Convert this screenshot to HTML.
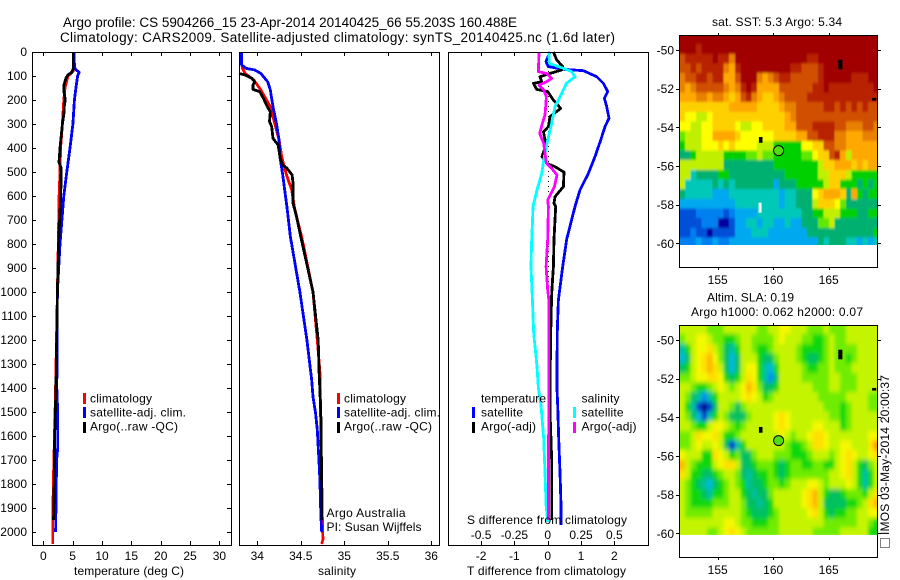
<!DOCTYPE html>
<html lang="en">
<head>
<meta charset="utf-8">
<title>Argo profile 5904266_15</title>
<style>
html,body{margin:0;padding:0;background:#fff;}
svg{display:block;}
text{font-family:"Liberation Sans",sans-serif;font-size:12px;fill:#000;}
.t14{font-size:13.5px;}
</style>
</head>
<body>
<svg id="chart" xmlns="http://www.w3.org/2000/svg" width="900" height="580" viewBox="0 0 900 580">
<defs>
<clipPath id="clip-sst"><rect x="679.5" y="35.5" width="198" height="209.5"/></clipPath>
<clipPath id="clip-sla"><rect x="679.5" y="325.5" width="198" height="209.5"/></clipPath>
<filter id="smooth" x="-5%" y="-5%" width="110%" height="110%"><feGaussianBlur stdDeviation="1.7 2.5"/></filter>
<filter id="soft" x="-5%" y="-5%" width="110%" height="110%"><feGaussianBlur stdDeviation="0.9 1.3"/></filter>
</defs>
<rect width="900" height="580" fill="#fff"/>

<text class="t14" x="63" y="27" textLength="454" lengthAdjust="spacing">Argo profile: CS 5904266_15 23-Apr-2014 20140425_66 55.203S 160.488E</text>
<text class="t14" x="60" y="42" textLength="555" lengthAdjust="spacing">Climatology: CARS2009. Satellite-adjusted climatology: synTS_20140425.nc (1.6d later)</text>

<g id="temp-panel"></g>
<g id="sal-panel"></g>
<g id="diff-panel"></g>
<g id="sst-map"></g>
<g id="sla-map"></g>

<rect x="32.5" y="52.5" width="199" height="493" fill="none" stroke="#000"/>
<rect x="239.5" y="52.5" width="200" height="493" fill="none" stroke="#000"/>
<rect x="448.5" y="52.5" width="200" height="493" fill="none" stroke="#000"/>
<rect x="679.5" y="35.5" width="198" height="232" fill="none" stroke="#000"/>
<rect x="679.5" y="325.5" width="198" height="232" fill="none" stroke="#000"/>

<text x="74" y="575" textLength="110" lengthAdjust="spacing">temperature (deg C)</text>
<text x="318" y="575" textLength="38" lengthAdjust="spacing">salinity</text>
<text x="467" y="575" textLength="159" lengthAdjust="spacing">T difference from climatology</text>
<text x="467" y="524" textLength="160" lengthAdjust="spacing">S difference from climatology</text>

<g>
<rect x="83" y="393" width="3" height="11" fill="#f00"/>
<text x="90" y="402.5" textLength="62" lengthAdjust="spacing">climatology</text>
<rect x="83" y="407" width="3" height="11" fill="#00f"/>
<text x="90" y="416.5" textLength="96" lengthAdjust="spacing">satellite-adj. clim.</text>
<rect x="83" y="422" width="3" height="11" fill="#000"/>
<text x="90" y="430.5" textLength="88" lengthAdjust="spacing">Argo(..raw -QC)</text>
</g>
<g>
<rect x="337" y="393" width="3" height="11" fill="#f00"/>
<text x="344" y="402.5" textLength="62" lengthAdjust="spacing">climatology</text>
<rect x="337" y="407" width="3" height="11" fill="#00f"/>
<text x="344" y="416.5" textLength="96" lengthAdjust="spacing">satellite-adj. clim.</text>
<rect x="337" y="422" width="3" height="11" fill="#000"/>
<text x="344" y="430.5" textLength="88" lengthAdjust="spacing">Argo(..raw -QC)</text>
<text x="326.5" y="517" textLength="79" lengthAdjust="spacing">Argo Australia</text>
<text x="326.5" y="531" textLength="95" lengthAdjust="spacing">PI: Susan Wijffels</text>
</g>
<g>
<text x="481" y="402.5" textLength="65" lengthAdjust="spacing">temperature</text>
<rect x="472" y="407" width="3" height="11" fill="#00f"/>
<text x="481" y="416.5" textLength="42" lengthAdjust="spacing">satellite</text>
<rect x="472" y="422" width="3" height="11" fill="#000"/>
<text x="481" y="430.5" textLength="55" lengthAdjust="spacing">Argo(-adj)</text>
<text x="581.5" y="402.5" textLength="38" lengthAdjust="spacing">salinity</text>
<rect x="573" y="407" width="3" height="11" fill="#0ff"/>
<text x="581.5" y="416.5" textLength="42" lengthAdjust="spacing">satellite</text>
<rect x="573" y="422" width="3" height="11" fill="#f0f"/>
<text x="581.5" y="430.5" textLength="55" lengthAdjust="spacing">Argo(-adj)</text>
</g>

<text x="712" y="26" textLength="130" lengthAdjust="spacing">sat. SST: 5.3 Argo: 5.34</text>
<text x="707" y="301.5" textLength="87" lengthAdjust="spacing">Altim. SLA: 0.19</text>
<text x="691" y="316" textLength="172" lengthAdjust="spacing">Argo h1000: 0.062 h2000: 0.07</text>

<rect x="880.5" y="538.5" width="9" height="9" fill="none" stroke="#000" stroke-dasharray="1 1"/>
<text transform="translate(889,535) rotate(-90)" textLength="160" lengthAdjust="spacing">IMOS 03-May-2014 20:00:37</text>
</svg>

<script>
// ---- profile data: pressure (dbar) and value pairs ----
const tempClimP = [0,80,100,150,200,300,400,500,600,800,1000,1400,1600,1800,2000,2050];
const tempClimV = [5.1,5.1,4.2,3.7,3.5,3.25,2.95,2.85,2.7,2.55,2.4,2.1,1.9,1.7,1.6,1.6];
const tempSatP = [0,50,70,85,100,150,200,300,400,500,600,800,1000,1400,1500,1600,1650,1700,2000];
const tempSatV = [5.2,5.3,5.4,6.1,5.85,5.55,5.3,5.05,4.55,4.0,3.5,2.85,2.4,2.3,2.45,2.45,2.45,2.27,2.1];
const tempArgoP = [0,70,85,95,110,140,160,200,220,250,260,300,400,460,480,500,600,800,1000,1400,1600,1800,1950];
const tempArgoV = [5.1,5.1,4.85,4.2,3.85,3.5,3.5,3.75,3.6,3.55,3.5,3.25,2.85,2.67,3.0,3.05,2.96,2.6,2.4,2.16,1.95,1.85,1.75];

const salClimP = [0,30,68,89,117,158,228,297,367,436,506,575,644,713,770,1000,1200,1333,2000,2030,2050];
const salClimV = [33.81,33.81,33.83,33.86,33.96,34.04,34.15,34.2,34.25,34.28,34.33,34.395,34.425,34.47,34.51,34.64,34.69,34.72,34.75,34.755,34.74];
const salSatP = [0,54,68,75,89,124,158,228,297,367,436,506,644,770,1000,1200,1367,1436,1506,1575,1644,1714,1783,1922,2000];
const salSatV = [33.82,33.82,33.87,33.97,34.04,34.12,34.15,34.18,34.22,34.25,34.26,34.29,34.34,34.38,34.49,34.57,34.625,34.64,34.67,34.69,34.7,34.71,34.72,34.73,34.74];
const salArgoP = [89,96,110,124,138,156,166,193,228,249,290,311,360,388,436,470,484,512,546,630,686,770,1000,1200,1333,1500,1800,1950];
const salArgoV = [33.79,33.86,33.94,33.97,33.95,33.95,34.03,34.07,34.115,34.15,34.14,34.165,34.18,34.24,34.26,34.29,34.34,34.4,34.41,34.41,34.45,34.5,34.64,34.7,34.71,34.73,34.74,34.74];

const dTSatP = [0,40,61,72,78,103,131,165,193,228,276,311,367,436,506,575,644,714,780,894,1033,1144,1311,1401,1472,1611,1750,1889,1970];
const dTSatV = [0.07,-0.05,0.02,0.47,1.07,1.47,1.67,1.8,1.7,1.77,1.84,1.72,1.59,1.42,1.22,0.97,0.82,0.69,0.57,0.45,0.32,0.29,0.28,0.28,0.3,0.33,0.37,0.4,0.4];
const dTArgoP = [0,33,61,75,89,103,124,131,156,165,200,235,269,311,332,388,436,464,478,501,561,603,631,644,780,894,1005,1172,1401,1500,1700,1950];
const dTArgoV = [0.17,0.27,0.45,0.42,0.07,-0.23,-0.18,-0.43,-0.33,0,0.17,0.39,0.07,0.02,-0.13,-0.05,-0.17,-0.03,0.22,0.49,0.47,0.22,0.19,0.24,0.19,0.17,0.12,0.09,0.07,0.07,0.12,0.12];
const dSSatP = [0,47,68,82,103,131,172,228,297,367,436,506,575,644,714,780,894,1033,1172,1311,1401,1472,1611,1750,1889,1958];
const dSSatV = [0.01,0.012,0.117,0.18,0.205,0.14,0.105,0.055,0.03,0,-0.025,-0.045,-0.08,-0.11,-0.115,-0.12,-0.125,-0.115,-0.105,-0.08,-0.07,-0.05,-0.03,-0.02,-0.012,0];
const dSArgoP = [0,82,89,110,124,138,158,186,228,262,297,339,381,464,485,512,561,617,644,780,894,992,1033,1401,1950];
const dSArgoV = [-0.065,-0.07,-0.01,0.03,-0.01,-0.065,-0.03,-0.01,-0.015,-0.02,-0.04,-0.06,-0.03,-0.01,0.03,0.07,0.05,0,0.005,0,-0.012,0,0.008,0.008,0.005];

// ---- tick labels ----
const depthTicks = [0,100,200,300,400,500,600,700,800,900,1000,1100,1200,1300,1400,1500,1600,1700,1800,1900,2000];
const tempTicks = [0,5,10,15,20,25,30];
const salTicks = [34,34.5,35,35.5,36];
const dTTicks = [-2,-1,0,1,2];
const dSTicks = [-0.5,-0.25,0,0.25,0.5];
const lonTicks = [155,160,165];
const latTicks = [-50,-52,-54,-56,-58,-60];

// ---- map data: colour level (0 = coldest/lowest, 15 = warmest/highest) per 0.5 degree cell ----
const sstLevels = [
[15,15,15,15,15,15,15,15,15,15,15,15,15,15,15,15,15,15,15,15,15,15,15,15,15,15,15,15,15,15,15,15,15,15,15,15],
[15,15,15,14,15,15,15,15,15,15,15,15,15,15,15,15,15,15,15,15,15,15,15,15,15,15,15,15,15,15,15,15,15,15,15,15],
[13,14,14,14,14,14,15,14,14,12,15,15,15,15,15,15,15,15,15,15,15,15,15,14,14,15,15,15,15,15,15,15,15,15,15,15],
[13,13,14,13,14,14,14,14,12,11,14,15,15,15,15,15,15,15,15,15,14,14,13,13,13,14,15,15,15,15,15,15,15,15,15,15],
[12,13,13,14,14,13,14,14,11,11,13,15,15,15,12,11,12,13,14,14,13,13,13,13,13,14,15,15,15,15,15,14,14,14,15,15],
[12,11,12,13,13,13,13,13,12,11,12,14,15,14,11,11,11,11,13,13,13,13,13,13,14,14,15,14,14,14,14,14,14,14,14,15],
[11,11,11,12,12,11,12,12,11,10,11,13,14,12,11,10,10,11,12,13,13,13,13,14,14,14,14,14,14,14,14,14,14,14,14,14],
[10,10,10,10,10,10,10,10,10,11,11,11,11,11,10,10,10,10,11,12,12,13,13,13,13,13,14,14,13,14,13,14,13,14,13,13],
[10,9,9,8,8,9,10,10,10,10,10,10,10,10,10,10,10,10,10,11,12,13,13,13,13,13,13,13,13,13,13,13,13,13,13,13],
[9,9,8,8,9,9,10,10,10,10,9,8,8,9,9,10,10,10,10,11,11,13,13,13,14,14,14,14,13,13,12,12,12,13,13,12],
[7,8,8,8,9,9,11,11,11,11,10,9,9,9,9,9,9,10,10,10,10,11,11,13,13,14,14,14,12,12,11,11,11,12,12,12],
[6,8,8,8,9,9,9,10,9,10,9,9,9,9,8,8,8,6,6,6,6,6,9,9,10,10,13,13,12,12,11,11,11,11,11,11],
[5,5,6,8,8,8,8,8,6,6,6,6,7,7,8,7,7,6,6,6,6,6,7,7,9,10,10,13,14,11,8,11,11,11,11,11],
[8,8,8,8,8,8,8,8,5,5,5,5,5,5,5,5,5,6,6,6,6,6,6,6,6,8,10,10,11,11,11,10,11,10,11,11],
[8,8,4,5,5,5,5,6,6,5,5,5,5,5,5,5,5,5,5,6,6,6,6,6,6,8,8,10,10,10,8,6,6,6,6,6],
[8,4,4,4,4,4,5,4,5,4,5,5,5,5,5,5,5,3,5,5,5,6,6,6,6,6,8,10,10,6,6,6,5,6,5,6],
[5,4,4,4,4,4,3,3,3,4,4,4,4,4,4,4,4,4,3,4,4,5,5,5,9,10,11,11,11,10,5,11,6,5,6,6],
[3,3,3,3,3,3,3,3,3,3,4,4,4,4,4,4,4,4,3,4,4,5,5,5,8,10,10,10,9,7,5,5,5,5,5,5],
[1,1,1,2,2,2,2,2,1,2,3,3,3,3,4,4,4,4,4,4,4,4,5,5,6,6,8,8,8,6,6,6,5,5,6,6],
[1,1,1,1,2,2,2,0,0,1,3,3,4,4,3,4,4,3,3,4,3,3,5,5,5,7,7,8,5,5,5,5,5,5,5,5],
[1,1,2,1,1,0,1,1,1,1,3,3,3,4,4,4,3,3,3,3,3,3,3,5,5,5,5,5,5,5,5,5,5,5,5,6],
[2,2,2,3,2,2,3,2,2,3,3,3,3,3,3,3,3,3,3,3,3,3,3,3,3,5,4,5,5,5,4,4,3,4,3,4]
];
const slaLevels = [
[8,8,8,8,8,7,7,7,8,8,8,8,8,8,7,7,8,8,9,9,8,8,8,7,7,7,8,7,7,7,8,8,8,8,8,8],
[7,8,8,9,9,8,7,7,6,6,7,8,8,7,7,7,7,8,9,8,8,8,7,7,6,6,7,8,7,7,8,8,8,8,8,8],
[4,6,8,9,9,10,8,7,5,4,6,8,8,7,6,6,7,8,8,8,8,7,6,6,6,6,7,8,7,7,7,7,8,8,8,8],
[3,5,8,9,10,11,9,7,5,3,5,8,8,8,6,5,5,7,8,8,8,7,6,5,5,6,7,8,7,7,6,7,8,8,8,8],
[5,6,8,9,10,11,10,8,5,3,5,8,9,9,6,4,3,6,8,8,8,8,7,6,6,7,7,8,7,7,7,8,8,8,8,8],
[7,7,8,9,9,10,10,9,6,5,6,8,10,9,6,4,2,5,8,8,8,8,7,7,7,7,7,8,8,7,7,7,8,8,8,8],
[8,8,7,6,6,7,8,9,8,7,8,9,11,10,7,5,5,6,8,8,8,8,8,8,7,7,7,8,8,7,7,7,8,8,8,8],
[8,7,5,4,2,4,6,8,8,8,8,9,10,9,8,6,7,8,8,8,8,8,8,8,8,7,7,7,7,7,8,8,8,8,7,7],
[8,6,4,1,0,1,5,8,8,7,5,7,8,8,8,8,8,8,8,8,8,8,8,8,8,8,7,7,7,6,7,8,8,8,7,7],
[8,7,5,3,1,4,6,8,7,5,5,5,7,8,8,8,8,9,10,9,8,8,8,8,8,8,8,7,7,6,7,8,8,8,8,8],
[8,8,7,6,6,8,9,9,8,7,6,7,8,8,8,8,8,9,10,9,8,8,8,8,9,9,8,8,8,6,7,8,8,8,8,8],
[7,7,8,10,9,9,10,8,6,6,7,8,8,8,8,8,8,8,9,8,7,8,8,9,10,10,9,8,8,8,8,8,8,8,9,9],
[7,7,8,9,8,8,9,8,5,1,4,6,8,8,8,8,8,8,8,7,6,6,7,8,10,10,9,8,8,9,9,8,8,8,10,12],
[9,8,8,8,6,6,10,9,8,6,7,5,5,7,8,8,8,7,7,7,6,6,6,7,8,8,8,7,8,9,10,9,8,8,9,10],
[11,8,7,6,6,6,8,9,10,10,8,5,5,6,7,7,7,6,5,6,7,7,6,6,7,7,6,6,8,9,10,8,6,5,7,8],
[10,8,6,6,5,5,6,7,8,8,7,5,4,5,6,6,7,6,5,6,7,7,7,7,7,7,7,8,8,9,10,8,6,4,6,8],
[8,7,6,5,4,3,5,6,7,8,7,6,4,5,5,6,7,7,6,7,8,8,8,9,9,8,7,8,8,8,9,8,6,4,6,8],
[8,7,6,6,5,4,6,6,7,8,8,6,5,4,5,5,7,8,8,8,8,8,9,10,11,8,6,5,5,6,7,7,7,6,8,10],
[8,7,6,6,6,6,7,7,7,8,8,7,5,5,4,5,6,8,8,8,8,8,9,10,11,8,5,5,5,5,6,6,7,8,10,11],
[8,7,7,7,7,7,8,8,8,8,8,7,6,5,5,5,6,7,8,8,8,8,8,9,10,8,6,5,6,6,7,7,8,8,9,9],
[8,8,8,8,8,8,8,8,9,9,8,7,7,6,6,6,7,7,8,8,8,8,8,8,8,8,7,7,7,7,7,7,8,8,7,6],
[8,8,8,8,8,7,7,8,9,10,9,8,7,7,7,7,7,7,8,8,8,8,8,8,7,7,7,7,7,8,8,8,8,8,6,6]
];
const islandLons = [166.0,169.05,158.85];
const islandLats = [-50.75,-52.55,-54.65];
const islandWidths = [0.1,0.1,0.05];
const islandHeights = [0.25,0.07,0.15];
const floatLon = 160.488;
const floatLat = -55.203;

// ---- drawing ----
const SVGNS = 'http://www.w3.org/2000/svg';
const sstPalette = ['#0000a0','#0050d8','#0080f0','#00a8f0','#00c8b8','#00b070','#00d000','#60e800','#c0f000','#ffff00','#ffd000','#ffa800','#e88000','#d05000','#b82000','#a00000'];
const slaPalette = ['#000090','#0040d0','#0090f0','#00b8d8','#00c0a0','#00c060','#10d810','#70ec00','#c4f400','#f4f800','#ffe000','#ffb800','#ff9800','#e88000','#d05000','#a00000'];
const yDepth = p => 52 + 0.24 * p;
const xTemp = v => 43.3 + 5.87 * v;
const xSal = v => 257.3 + 87 * (v - 34);
const xDT = v => 547.7 + 33.33 * v;
const xDS = v => 547.7 + 133.3 * v;
const mapX = lon => 717.7 + 11.1 * (lon - 155);
const sstY = lat => 50 + 19.33 * (-50 - lat);
const slaY = lat => 340 + 19.33 * (-50 - lat);
const CELL_START_LON = 151.54, CELL_START_LAT = -49.2, CELL_STEP = 0.5;

function mk(tag, attrs, parent, txt) {
  const el = document.createElementNS(SVGNS, tag);
  for (const k in attrs) el.setAttribute(k, attrs[k]);
  if (txt !== undefined) el.textContent = txt;
  parent.appendChild(el);
  return el;
}
function line(parent, x1, y1, x2, y2) {
  const el = mk('line', {x1: x1, y1: y1, x2: x2, y2: y2, stroke: '#000', 'stroke-width': 1, 'shape-rendering': 'crispEdges'}, parent);
  
  
  return el;
}
function label(parent, x, y, s, anchor) {
  const el = mk('text', {x: x, y: y, 'text-anchor': anchor}, parent, s);
  
  
  return el;
}
function series(parent, name, ps, vs, xf, color) {
  const pts = ps.map((p, i) => xf(vs[i]).toFixed(1) + ',' + yDepth(p).toFixed(1)).join(' ');
  const el = mk('polyline', {points: pts, fill: 'none', stroke: color, 'stroke-width': 2.8, 'shape-rendering': 'crispEdges', 'stroke-linejoin': 'round'}, parent);
  
  
  return el;
}
function xAxis(parent, ticks, xf, labelY, fmt) {
  ticks.forEach(t => {
    const x = Math.round(xf(t)) + 0.5;
    line(parent, x, 52, x, 56);
    line(parent, x, 541, x, 545);
    if (labelY) label(parent, xf(t), labelY, fmt ? fmt(t) : String(t), 'middle');
  });
}

const tempPanel = document.getElementById('temp-panel');
const salPanel = document.getElementById('sal-panel');
const diffPanel = document.getElementById('diff-panel');

depthTicks.forEach(d => {
  const y = Math.round(yDepth(d)) + 0.5;
  line(tempPanel, 32, y, 36, y);
  line(tempPanel, 227, y, 231, y);
  label(tempPanel, 27, yDepth(d) + 4, String(d), 'end');
});
xAxis(tempPanel, tempTicks, xTemp, 560);
xAxis(salPanel, salTicks, xSal, 560);
xAxis(diffPanel, dTTicks, xDT, 560);
dSTicks.forEach(t => label(diffPanel, xDS(t), 539, String(t), 'middle'));

series(tempPanel, 'temperature-climatology-line', tempClimP, tempClimV, xTemp, '#f00');
series(tempPanel, 'temperature-satellite-line', tempSatP, tempSatV, xTemp, '#00f');
series(tempPanel, 'temperature-argo-line', tempArgoP, tempArgoV, xTemp, '#000');
series(salPanel, 'salinity-climatology-line', salClimP, salClimV, xSal, '#f00');
series(salPanel, 'salinity-satellite-line', salSatP, salSatV, xSal, '#00f');
series(salPanel, 'salinity-argo-line', salArgoP, salArgoV, xSal, '#000');

const zeroLine = mk('line', {x1: xDT(0) + 1, y1: yDepth(80), x2: xDT(0) + 1, y2: yDepth(1100), stroke: '#000', 'stroke-width': 1, 'stroke-dasharray': '1 4', 'shape-rendering': 'crispEdges'}, diffPanel);


series(diffPanel, 't-diff-satellite-line', dTSatP, dTSatV, xDT, '#00f');
series(diffPanel, 't-diff-argo-line', dTArgoP, dTArgoV, xDT, '#000');
series(diffPanel, 's-diff-satellite-line', dSSatP, dSSatV, xDS, '#0ff');
series(diffPanel, 's-diff-argo-line', dSArgoP, dSArgoV, xDS, '#f0f');

function drawMap(root, levels, palette, yf, clipId, top, filterId) {
  const clip = mk('g', {'clip-path': 'url(#' + clipId + ')'}, root);
  
  
  const cells = mk('g', {filter: 'url(#' + filterId + ')'}, clip);
  
  
  levels.forEach((row, r) => {
    row.forEach((v, c) => {
      const lon0 = CELL_START_LON + c * CELL_STEP;
      const lat0 = CELL_START_LAT - r * CELL_STEP;
      const x1 = mapX(lon0 + CELL_STEP), y1 = yf(lat0 - CELL_STEP);
      const x0 = mapX(lon0) - (c === 0 ? 8 : 0);
      const y0 = yf(lat0) - (r === 0 ? 8 : 0);
      const cell = mk('rect', {x: x0, y: y0, width: x1 - x0 + 0.5 + (c === row.length - 1 ? 8 : 0), height: y1 - y0 + 0.5, fill: palette[Math.max(0, Math.min(15, Math.round(v)))], 'shape-rendering': 'crispEdges'}, cells);
      
      
    });
  });
  islandLons.forEach((lon, i) => {
    const isl = mk('rect', {x: mapX(lon) - 1.5, y: yf(islandLats[i]) - islandHeights[i] * 19.33, width: 3 + islandWidths[i] * 11, height: 2 * islandHeights[i] * 19.33, fill: '#000'}, root);
    
    
  });
  const marker = mk('circle', {cx: mapX(floatLon), cy: yf(floatLat), r: 5, fill: '#50e010', stroke: '#000', 'stroke-width': 1}, root);
  
  
  lonTicks.forEach(t => {
    const x = Math.round(mapX(t)) + 0.5;
    line(root, x, top - 2, x, top);
    line(root, x, top + 232, x, top + 235);
    label(root, mapX(t), top + 249, String(t), 'middle');
  });
  latTicks.forEach(t => {
    const y = Math.round(yf(t)) + 0.5;
    line(root, 676, y, 679, y);
    line(root, 878, y, 881, y);
    label(root, 674, yf(t) + 4.5, String(t), 'end');
  });
}
drawMap(document.getElementById('sst-map'), sstLevels, sstPalette, sstY, 'clip-sst', 35, 'soft');
drawMap(document.getElementById('sla-map'), slaLevels, slaPalette, slaY, 'clip-sla', 325, 'smooth');

const missing = mk('rect', {x: mapX(158.68), y: sstY(-57.9), width: 3, height: 10, fill: '#fff'}, document.getElementById('sst-map'));


</script>
</body>
</html>
